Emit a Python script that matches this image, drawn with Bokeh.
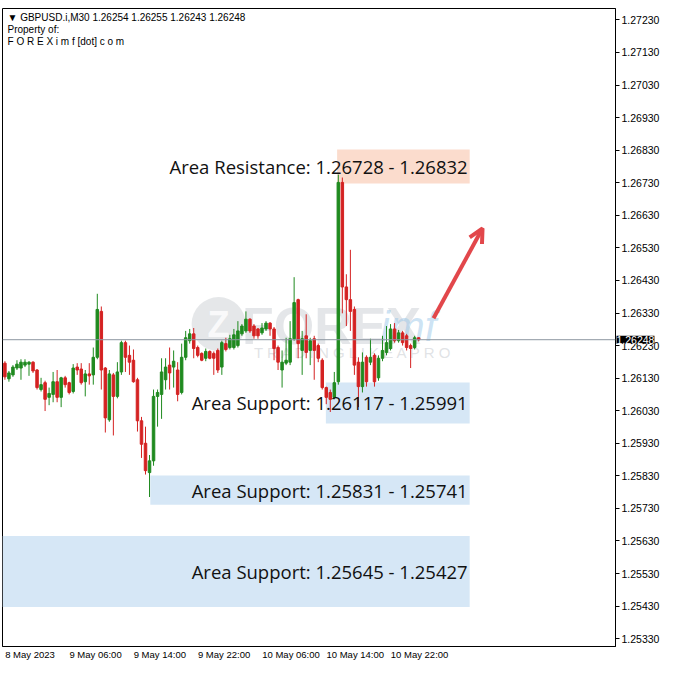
from bokeh.plotting import figure
from bokeh.models import (ColumnDataSource, FixedTicker, Span, Label, BoxAnnotation,
                          Arrow, OpenHead, Range1d, PrintfTickFormatter)
from bokeh.embed import file_html
from bokeh.resources import INLINE

# ---------------- data (GBPUSD M30, 8 May 22:00 -> 11 May 01:30) ----------------
opens = [1.26176, 1.26128, 1.26140, 1.26161, 1.26161, 1.26170, 1.26173, 1.26179, 1.26155, 1.26095,
         1.26116, 1.26071, 1.26080, 1.26119, 1.26071, 1.26131, 1.26116, 1.26089, 1.26164, 1.26158,
         1.26119, 1.26143, 1.26140, 1.26194, 1.26335, 1.26161, 1.26002, 1.26140, 1.26074, 1.26149,
         1.26239, 1.26200, 1.26185, 1.26125, 1.25999, 1.25930, 1.25840, 1.25876, 1.26074, 1.26080,
         1.26125, 1.26170, 1.26164, 1.26155, 1.26086, 1.26194, 1.26245, 1.26266, 1.26224, 1.26206,
         1.26191, 1.26212, 1.26206, 1.26215, 1.26164, 1.26236, 1.26224, 1.26224, 1.26230, 1.26266,
         1.26275, 1.26311, 1.26290, 1.26281, 1.26269, 1.26281, 1.26299, 1.26281, 1.26224, 1.26155,
         1.26176, 1.26179, 1.26251, 1.26371, 1.26215, 1.26260, 1.26215, 1.26251, 1.26230, 1.26185,
         1.26101, 1.26086, 1.26071, 1.26119, 1.26731, 1.26410, 1.26371, 1.26341, 1.26179, 1.26104,
         1.26194, 1.26179, 1.26200, 1.26131, 1.26191, 1.26209, 1.26221, 1.26281, 1.26245, 1.26269,
         1.26260, 1.26230, 1.26224, 1.26254]
highs = [1.26182, 1.26152, 1.26170, 1.26185, 1.26188, 1.26188, 1.26182, 1.26182, 1.26158, 1.26131,
         1.26122, 1.26101, 1.26149, 1.26155, 1.26134, 1.26137, 1.26119, 1.26173, 1.26176, 1.26176,
         1.26155, 1.26176, 1.26224, 1.26389, 1.26350, 1.26164, 1.26155, 1.26146, 1.26179, 1.26245,
         1.26245, 1.26230, 1.26218, 1.26131, 1.26011, 1.25981, 1.25894, 1.26095, 1.26095, 1.26191,
         1.26191, 1.26224, 1.26215, 1.26179, 1.26236, 1.26275, 1.26281, 1.26284, 1.26230, 1.26209,
         1.26221, 1.26215, 1.26212, 1.26221, 1.26245, 1.26254, 1.26263, 1.26281, 1.26305, 1.26296,
         1.26335, 1.26314, 1.26296, 1.26284, 1.26299, 1.26305, 1.26302, 1.26287, 1.26230, 1.26215,
         1.26254, 1.26305, 1.26440, 1.26374, 1.26275, 1.26326, 1.26254, 1.26260, 1.26236, 1.26191,
         1.26104, 1.26095, 1.26149, 1.26755, 1.26746, 1.26449, 1.26524, 1.26350, 1.26194, 1.26209,
         1.26200, 1.26251, 1.26206, 1.26200, 1.26260, 1.26290, 1.26296, 1.26299, 1.26278, 1.26275,
         1.26266, 1.26236, 1.26260, 1.26255]
lows = [1.26125, 1.26119, 1.26134, 1.26155, 1.26125, 1.26164, 1.26137, 1.26146, 1.26095, 1.26089,
        1.26029, 1.26047, 1.26056, 1.26056, 1.26041, 1.26101, 1.26080, 1.26083, 1.26140, 1.26110,
        1.26074, 1.26110, 1.26110, 1.26188, 1.26095, 1.25963, 1.25996, 1.25954, 1.26068, 1.26140,
        1.26149, 1.26140, 1.26116, 1.25966, 1.25885, 1.25834, 1.25765, 1.25861, 1.25981, 1.26005,
        1.26095, 1.26095, 1.26101, 1.26059, 1.26080, 1.26185, 1.26236, 1.26191, 1.26194, 1.26182,
        1.26182, 1.26188, 1.26140, 1.26146, 1.26140, 1.26212, 1.26218, 1.26218, 1.26224, 1.26260,
        1.26269, 1.26269, 1.26251, 1.26251, 1.26263, 1.26275, 1.26260, 1.26185, 1.26155, 1.26101,
        1.26170, 1.26170, 1.26245, 1.26191, 1.26140, 1.26191, 1.26170, 1.26125, 1.26179, 1.26095,
        1.26050, 1.26026, 1.26065, 1.26110, 1.26329, 1.26290, 1.26275, 1.26140, 1.26041, 1.26086,
        1.26104, 1.26170, 1.26104, 1.26122, 1.26182, 1.26200, 1.26215, 1.26239, 1.26239, 1.26230,
        1.26215, 1.26161, 1.26218, 1.26243]
closes = [1.26134, 1.26146, 1.26164, 1.26173, 1.26179, 1.26179, 1.26179, 1.26152, 1.26101, 1.26110,
          1.26065, 1.26083, 1.26119, 1.26071, 1.26131, 1.26110, 1.26086, 1.26161, 1.26155, 1.26116,
          1.26143, 1.26137, 1.26194, 1.26341, 1.26155, 1.26008, 1.26143, 1.26074, 1.26149, 1.26239,
          1.26194, 1.26179, 1.26119, 1.25999, 1.25927, 1.25846, 1.25876, 1.26074, 1.26086, 1.26149,
          1.26164, 1.26146, 1.26182, 1.26080, 1.26194, 1.26254, 1.26266, 1.26221, 1.26200, 1.26185,
          1.26212, 1.26191, 1.26191, 1.26155, 1.26239, 1.26218, 1.26251, 1.26263, 1.26275, 1.26290,
          1.26311, 1.26275, 1.26260, 1.26260, 1.26284, 1.26299, 1.26281, 1.26221, 1.26179, 1.26179,
          1.26185, 1.26251, 1.26362, 1.26236, 1.26251, 1.26209, 1.26245, 1.26215, 1.26191, 1.26101,
          1.26071, 1.26065, 1.26116, 1.26731, 1.26410, 1.26371, 1.26335, 1.26170, 1.26104, 1.26179,
          1.26119, 1.26194, 1.26119, 1.26191, 1.26215, 1.26239, 1.26281, 1.26245, 1.26269, 1.26239,
          1.26224, 1.26221, 1.26254, 1.26248]

time_tick_bars = [0, 16, 32, 48, 64, 80, 96]
time_tick_labels = ["8 May 2023", "9 May 06:00", "9 May 14:00", "9 May 22:00",
                    "10 May 06:00", "10 May 14:00", "10 May 22:00"]
price_ticks = [1.25330, 1.25430, 1.25530, 1.25630, 1.25730, 1.25830, 1.25930, 1.26030,
               1.26130, 1.26230, 1.26330, 1.26430, 1.26530, 1.26630, 1.26730, 1.26830,
               1.26930, 1.27030, 1.27130, 1.27230]
last_price = 1.26248
header_lines = ["\u25bc GBPUSD.i,M30  1.26254 1.26255 1.26243 1.26248",
                "Property of:", "F O R E X i m f [dot] c o m"]

# zones: (label, low, high, start bar)
zone_names = ["Area Resistance", "Area Support", "Area Support", "Area Support"]
zone_low = [1.26728, 1.25991, 1.25741, 1.25427]
zone_high = [1.26832, 1.26117, 1.25831, 1.25645]
zone_text = ["1.26728 - 1.26832", "1.26117 - 1.25991", "1.25831 - 1.25741", "1.25645 - 1.25427"]
zone_start = [82.7, 79.9, 36.2, None]
zone_end = 115.7
zone_colors = ["#fbdccd", "#d6e7f6", "#d6e7f6", "#d6e7f6"]

BULL = "#1f8a1f"
BEAR = "#d42222"
FONT = "Liberation Sans"
TIME_FONT_PX = 9.5
BAR_PX = 4.0  # approx. pixels per bar, used to left-align time labels


def text_width(s, size):
    # rough Liberation Sans advance widths (em)
    w = 0.0
    for ch in s:
        if ch.isdigit():
            w += 0.556
        elif ch in " :":
            w += 0.278
        elif ch == "M":
            w += 0.833
        else:
            w += 0.54
    return w * size


# ---------------- figure ----------------
x0, x1 = -0.6, 152.0
p = figure(width=662, height=662, output_backend="svg", toolbar_location=None,
           x_range=Range1d(x0, x1), y_range=Range1d(1.25306, 1.27265),
           y_axis_location="right", min_border_left=2, min_border_top=0,
           min_border_right=0, min_border_bottom=0)
p.background_fill_color = "white"
p.border_fill_color = "white"
p.outline_line_color = "black"
p.outline_line_width = 1
p.xgrid.visible = False
p.ygrid.visible = False

ya = p.yaxis[0]
ya.ticker = FixedTicker(ticks=price_ticks)
ya.formatter = PrintfTickFormatter(format="%.5f")
ya.major_tick_out = 4
ya.major_tick_in = 0
ya.minor_tick_line_color = None
ya.axis_line_color = "black"
ya.major_tick_line_color = "black"
ya.major_label_text_font = FONT
ya.major_label_text_font_size = "10.5px"
ya.major_label_text_color = "black"
ya.major_label_standoff = 2

# time axis: labels are left-aligned at their bar (MetaTrader style)
shifted = [b + text_width(l, TIME_FONT_PX) / 2 / BAR_PX
           for b, l in zip(time_tick_bars, time_tick_labels)]
xa = p.xaxis[0]
xa.ticker = FixedTicker(ticks=shifted)
xa.major_label_overrides = {s: l for s, l in zip(shifted, time_tick_labels)}
xa.major_tick_out = 0
xa.major_tick_in = 0
xa.major_tick_line_color = None
xa.minor_tick_line_color = None
xa.axis_line_color = "black"
xa.major_label_text_font = FONT
xa.major_label_text_font_size = f"{TIME_FONT_PX}px"
xa.major_label_text_color = "black"
xa.major_label_standoff = 2

# zones (under candles)
for lo, hi, st, col in zip(zone_low, zone_high, zone_start, zone_colors):
    kw = dict(bottom=lo, top=hi, right=zone_end, fill_color=col, fill_alpha=1.0,
              line_color=None, level="underlay")
    if st is not None:
        kw["left"] = st
    p.add_layout(BoxAnnotation(**kw))

# watermark
p.scatter(x=[53.2], y=[1.26296], size=54, marker="circle", fill_color="#c5c9ce",
          fill_alpha=0.45, line_color=None, level="underlay")
p.text(x=[53.2], y=[1.26296], text=["Z"], text_font_size="36px", text_font_style="bold",
       text_color="white", text_alpha=0.8, text_align="center", text_baseline="middle",
       level="underlay")
p.text(x=[59.0], y=[1.26290], text=["FOREX"], text_font_size="52px", text_font_style="bold",
       text_color="#b9bec4", text_alpha=0.38, text_align="left", text_baseline="middle",
       level="underlay")
p.text(x=[93.5], y=[1.26290], text=["imf"], text_font_size="42px", text_font_style="italic",
       text_color="#8ec0e6", text_alpha=0.45, text_align="left", text_baseline="middle",
       level="underlay")
p.text(x=[62.0], y=[1.26209], text=["T R A D I N G   L I K E   A   P R O"],
       text_font_size="15px", text_color="#c7cbd0", text_alpha=0.55, text_align="left",
       text_baseline="middle", level="underlay")

# current price line
p.add_layout(Span(location=last_price, dimension="width", line_color="#8c96a0",
                  line_width=1))

# candles
idx = list(range(len(opens)))
up = [c >= o for o, c in zip(opens, closes)]
for flag, col in ((True, BULL), (False, BEAR)):
    sel = [i for i in idx if up[i] == flag]
    src = ColumnDataSource(dict(
        x=sel,
        hi=[highs[i] for i in sel],
        lo=[lows[i] for i in sel],
        top=[max(opens[i], closes[i]) for i in sel],
        bot=[min(opens[i], closes[i]) for i in sel],
    ))
    p.segment(x0="x", y0="lo", x1="x", y1="hi", source=src, line_color=col, line_width=1)
    p.vbar(x="x", width=0.62, top="top", bottom="bot", source=src,
           fill_color=col, line_color=col, line_width=1)

# zone labels
for name, lo, hi, txt in zip(zone_names, zone_low, zone_high, zone_text):
    p.add_layout(Label(x=zone_end - 0.5, y=(lo + hi) / 2, text=f"{name}: {txt}",
                       text_align="right", text_baseline="middle",
                       text_font="Open Sans", text_font_size="18.5px",
                       text_color="#111111"))

# arrow
p.add_layout(Arrow(end=OpenHead(line_color="#e2474b", line_width=4, size=14),
                   x_start=106.7, y_start=1.26314, x_end=118.9, y_end=1.26590,
                   line_color="#e2474b", line_width=4))

# header texts
for k, line in enumerate(header_lines):
    p.add_layout(Label(x=x0, y=1.27265, x_offset=5, y_offset=-3 - 12 * k, text=line,
                       text_baseline="top", text_align="left", text_font=FONT,
                       text_font_size="10px", text_color="black"))

# last price tag on the price axis (side panel so it is not clipped to the frame)
p.add_layout(Label(x=x1, y=last_price, x_offset=1, text="1.26248", text_baseline="middle",
                   text_align="left", text_font=FONT, text_font_size="10.5px",
                   text_color="white", background_fill_color="black",
                   background_fill_alpha=1.0), "above")

open("out.html", "w").write(file_html(p, INLINE))
